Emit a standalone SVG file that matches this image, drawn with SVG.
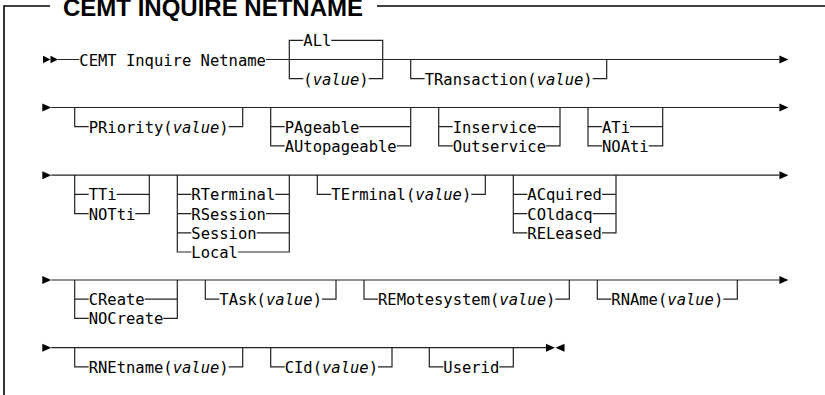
<svg xmlns="http://www.w3.org/2000/svg" width="825" height="395" viewBox="0 0 825 395">
<style>
.frame{fill:none;stroke:#000;stroke-width:1.6}
.title{font-family:"Liberation Sans",Arial,sans-serif;font-weight:bold;font-size:24px;fill:#000}
.ln{fill:none;stroke:#222;stroke-width:1.2}
.t{font-family:"DejaVu Sans Mono","Liberation Mono",monospace;font-size:15.5px;fill:#000}
.v{font-style:italic}
.ah{fill:#000}
</style>
<defs>
<polygon id="ar" points="0,-4 9,0 0,4"/>
<polygon id="ars" points="0,-3.8 7.5,0 0,3.8"/>
<polygon id="al" points="9,-4 0,0 9,4"/>
</defs>
<rect width="825" height="395" fill="#fff"/>
<g id="frame">
<path class="frame" d="M4 395 V6 H50 M377 6 H825"/>
<text class="title" x="63" y="16">CEMT INQUIRE NETNAME</text>
</g>
<g id="connectors">
<path class="ln" d="M58 59.5 H79.3 M266 59.5 H779
M303.3 40.3 H289.3 V78.7 H303.3 M331.3 40.3 H382.7 V78.7 H368.7
M424.7 78.7 H410.7 V59.5 M592.7 78.7 H606.7 V59.5"/>
<path class="ln" d="M51.3 107.5 H779
M88.7 126.7 H74.7 V107.5 M228.7 126.7 H242.7 V107.5
M270.7 107.5 V145.9 H284.7 M270.7 126.7 H284.7 M410.7 107.5 V145.9 H396.7 M410.7 126.7 H359.3
M438.7 107.5 V145.9 H452.7 M438.7 126.7 H452.7 M560 107.5 V145.9 H546 M560 126.7 H536.7
M588 107.5 V145.9 H602 M588 126.7 H602 M662.7 107.5 V145.9 H648.7 M662.7 126.7 H630"/>
<path class="ln" d="M51.3 175.2 H779
M74.7 175.2 V213.6 H88.7 M74.7 194.4 H88.7 M149.3 175.2 V213.6 H135.3 M149.3 194.4 H116.7
M177.3 175.2 V252 H191.3 M177.3 194.4 H191.3 M177.3 213.6 H191.3 M177.3 232.8 H191.3
M289.3 175.2 V252 H238 M289.3 194.4 H275.3 M289.3 213.6 H266 M289.3 232.8 H256.7
M317.3 175.2 V194.4 H331.3 M485.3 175.2 V194.4 H471.3
M513.3 175.2 V232.8 H527.3 M513.3 194.4 H527.3 M513.3 213.6 H527.3 M616 175.2 V232.8 H602 M616 194.4 H602 M616 213.6 H592.7"/>
<path class="ln" d="M51.3 280 H779
M74.7 280 V318.4 H88.7 M74.7 299.2 H88.7 M177.3 280 V318.4 H163.3 M177.3 299.2 H144.7
M205.3 280 V299.2 H219.3 M336 280 V299.2 H322
M364 280 V299.2 H378 M569.3 280 V299.2 H555.3
M597.3 280 V299.2 H611.3 M737.3 280 V299.2 H723.3"/>
<path class="ln" d="M51.3 347.7 H546
M74.7 347.7 V366.9 H88.7 M242.7 347.7 V366.9 H228.7
M270.7 347.7 V366.9 H284.7 M392 347.7 V366.9 H378
M429.3 347.7 V366.9 H443.3 M513.3 347.7 V366.9 H499.3"/>
<g class="ah">
<use href="#ars" x="43" y="59.5"/><use href="#ars" x="50.5" y="59.5"/>
<use href="#ar" x="779.4" y="59.5"/>
<use href="#ar" x="42.3" y="107.5"/><use href="#ar" x="779.4" y="107.5"/>
<use href="#ar" x="42.3" y="175.2"/><use href="#ar" x="779.4" y="175.2"/>
<use href="#ar" x="42.3" y="280"/><use href="#ar" x="779.4" y="280"/>
<use href="#ar" x="42.3" y="347.7"/>
<use href="#ar" x="546" y="347.7"/><use href="#al" x="555.5" y="347.7"/>
</g>
</g>
<g id="n-cemt"><text class="t" x="79.3" y="65.5">CEMT Inquire Netname</text></g>
<g id="n-all"><text class="t" x="303.3" y="46.3">ALl</text></g>
<g id="n-value"><text class="t" x="303.3" y="84.7">(<tspan class="v">value</tspan>)</text></g>
<g id="n-transaction"><text class="t" x="424.7" y="84.7">TRansaction(<tspan class="v">value</tspan>)</text></g>
<g id="n-priority"><text class="t" x="88.7" y="132.7">PRiority(<tspan class="v">value</tspan>)</text></g>
<g id="n-pageable"><text class="t" x="284.7" y="132.7">PAgeable</text></g>
<g id="n-autopageable"><text class="t" x="284.7" y="151.9">AUtopageable</text></g>
<g id="n-inservice"><text class="t" x="452.7" y="132.7">Inservice</text></g>
<g id="n-outservice"><text class="t" x="452.7" y="151.9">Outservice</text></g>
<g id="n-ati"><text class="t" x="602" y="132.7">ATi</text></g>
<g id="n-noati"><text class="t" x="602" y="151.9">NOAti</text></g>
<g id="n-tti"><text class="t" x="88.7" y="200.4">TTi</text></g>
<g id="n-notti"><text class="t" x="88.7" y="219.6">NOTti</text></g>
<g id="n-rterminal"><text class="t" x="191.3" y="200.4">RTerminal</text></g>
<g id="n-rsession"><text class="t" x="191.3" y="219.6">RSession</text></g>
<g id="n-session"><text class="t" x="191.3" y="238.8">Session</text></g>
<g id="n-local"><text class="t" x="191.3" y="258">Local</text></g>
<g id="n-terminal"><text class="t" x="331.3" y="200.4">TErminal(<tspan class="v">value</tspan>)</text></g>
<g id="n-acquired"><text class="t" x="527.3" y="200.4">ACquired</text></g>
<g id="n-coldacq"><text class="t" x="527.3" y="219.6">COldacq</text></g>
<g id="n-released"><text class="t" x="527.3" y="238.8">RELeased</text></g>
<g id="n-create"><text class="t" x="88.7" y="305.2">CReate</text></g>
<g id="n-nocreate"><text class="t" x="88.7" y="324.4">NOCreate</text></g>
<g id="n-task"><text class="t" x="219.3" y="305.2">TAsk(<tspan class="v">value</tspan>)</text></g>
<g id="n-remotesystem"><text class="t" x="378" y="305.2">REMotesystem(<tspan class="v">value</tspan>)</text></g>
<g id="n-rname"><text class="t" x="611.3" y="305.2">RNAme(<tspan class="v">value</tspan>)</text></g>
<g id="n-rnetname"><text class="t" x="88.7" y="372.9">RNEtname(<tspan class="v">value</tspan>)</text></g>
<g id="n-cid"><text class="t" x="284.7" y="372.9">CId(<tspan class="v">value</tspan>)</text></g>
<g id="n-userid"><text class="t" x="443.3" y="372.9">Userid</text></g>
</svg>
